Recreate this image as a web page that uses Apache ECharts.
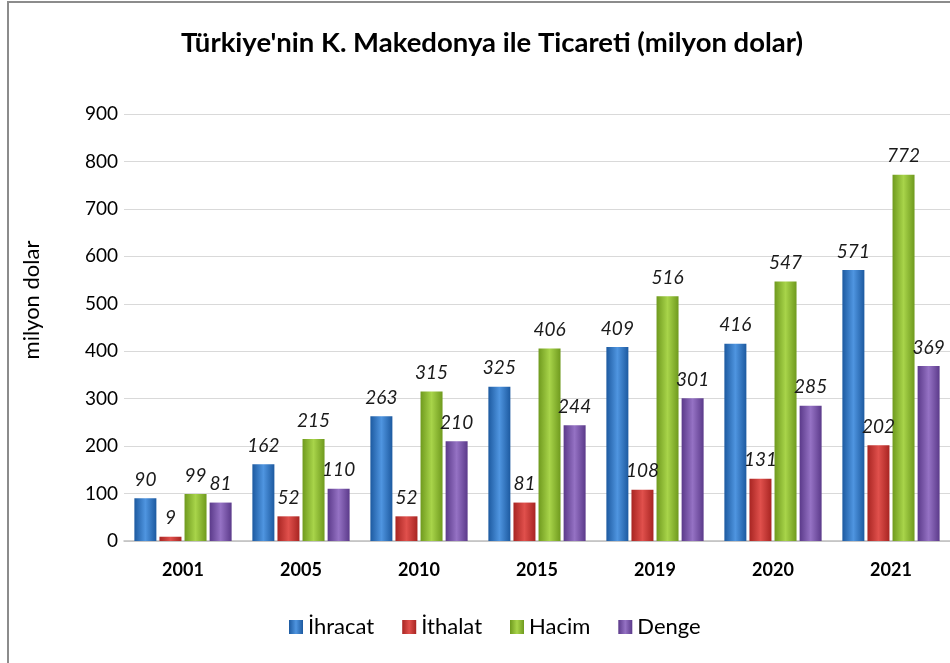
<!DOCTYPE html>
<html><head><meta charset="utf-8">
<script src="https://cdn.jsdelivr.net/npm/echarts@6/dist/echarts.min.js"></script>
<style>html,body{margin:0;padding:0;background:#fff}#c{width:950px;height:663px}</style>
</head><body><div id="c"></div>
<script>
const categories = ['2001','2005','2010','2015','2019','2020','2021'];
const ihracat = [90,162,263,325,409,416,571];
const ithalat = [9,52,52,81,108,131,202];
const hacim = [99,215,315,406,516,547,772];
const denge = [81,110,210,244,301,285,369];
const seriesNames = ['İhracat','İthalat','Hacim','Denge'];
const yTicks = {min:0,max:900,interval:100};

function grad(edge, mid){
  return new echarts.graphic.LinearGradient(0,0,1,0,[
    {offset:0,color:edge},{offset:0.5,color:mid},{offset:1,color:edge}]);
}
const palettes = [
  ['#1d5aa0','#4f95e0'],
  ['#a82522','#e0504c'],
  ['#6f9a1e','#a8d44a'],
  ['#5b3a8a','#9572c4']
];
const dataSets = [ihracat, ithalat, hacim, denge];
const chart = echarts.init(document.getElementById('c'));
chart.setOption({
  animation:false,
  title:{text:"Türkiye'nin K. Makedonya ile Ticareti (milyon dolar)",left:487,top:24,textAlign:'center',
    textStyle:{fontFamily:'Lato',fontWeight:'bold',fontSize:27.5,color:'#000'}},
  graphic:[
    {type:'rect',shape:{x:8,y:2,width:1000,height:700},style:{fill:'none',stroke:'#8c8c8c',lineWidth:2},silent:true},
    {type:'text',x:32,y:300,rotation:Math.PI/2,silent:true,
      style:{text:'milyon dolar',fontFamily:'Lato',fontSize:22,fill:'#000',textAlign:'center',textVerticalAlign:'middle'}}
  ],
  legend:{bottom:20,left:284,itemWidth:14,itemHeight:14,itemGap:28,
    textStyle:{fontFamily:'Lato',fontSize:22,color:'#000'},
    data:seriesNames.map((n,i)=>({name:n,icon:'rect',itemStyle:{color:grad(palettes[i][0],palettes[i][1])}}))},
  grid:{left:124,right:-2,top:114,bottom:122},
  xAxis:{type:'category',data:categories,axisTick:{show:false},
    axisLine:{lineStyle:{color:'#bfbfbf',width:1.5}},
    axisLabel:{fontFamily:'Lato',fontWeight:'bold',fontSize:18,color:'#000',margin:20}},
  yAxis:{type:'value',min:yTicks.min,max:yTicks.max,interval:yTicks.interval,
    axisLine:{show:false},axisTick:{show:false},
    axisLabel:{fontFamily:'Lato',fontSize:19,color:'#000',margin:6},
    splitLine:{lineStyle:{color:'#d9d9d9',width:1}}},
  series:seriesNames.map((n,i)=>({
    name:n,type:'bar',data:dataSets[i],barWidth:22,barGap:'14%',barCategoryGap:'18%',
    itemStyle:{color:grad(palettes[i][0],palettes[i][1])},
    label:{show:true,position:'top',distance:9,fontFamily:'Lato',fontStyle:'italic',fontSize:19,color:'#1a1a1a'}
  }))
});
</script></body></html>
